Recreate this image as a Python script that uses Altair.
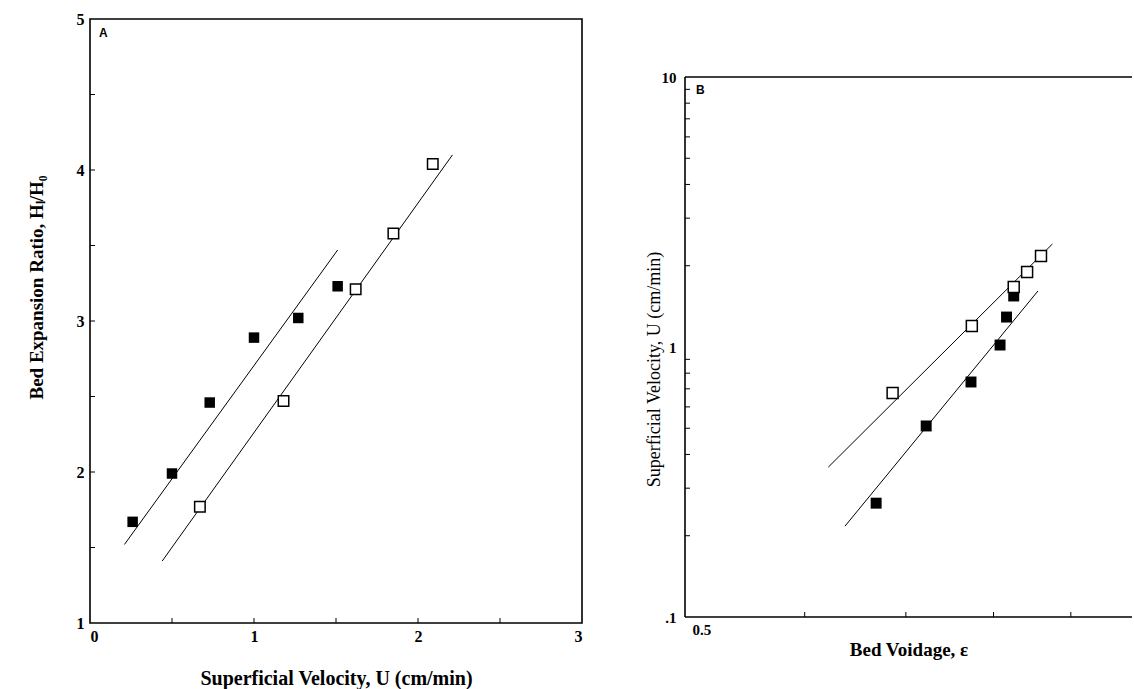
import altair as alt
import pandas as pd

# ---------------- Panel A data ----------------
a_filled_u = [0.26, 0.50, 0.73, 1.00, 1.27, 1.51]
a_filled_r = [1.67, 1.99, 2.46, 2.89, 3.02, 3.23]
a_open_u = [0.67, 1.18, 1.62, 1.85, 2.09]
a_open_r = [1.77, 2.47, 3.21, 3.58, 4.04]
a_fit_filled_u = [0.21, 1.51]
a_fit_filled_r = [1.52, 3.47]
a_fit_open_u = [0.44, 2.21]
a_fit_open_r = [1.41, 4.10]
a_x_ticks = [0, 1, 2, 3]
a_y_ticks = [1, 2, 3, 4, 5]
a_x_minor = [0.5, 1.0, 1.5, 2.0, 2.5]
a_y_minor = [1.5, 2.0, 2.5, 3.0, 3.5, 4.0, 4.5]

# ---------------- Panel B data ----------------
b_filled_e = [0.669, 0.722, 0.773, 0.808, 0.816, 0.825]
b_filled_u = [0.264, 0.510, 0.742, 1.017, 1.291, 1.545]
b_open_e = [0.686, 0.774, 0.825, 0.842, 0.860]
b_open_u = [0.676, 1.196, 1.668, 1.896, 2.173]
b_fit_filled_e = [0.638, 0.856]
b_fit_filled_u = [0.217, 1.612]
b_fit_open_e = [0.622, 0.875]
b_fit_open_u = [0.359, 2.406]
b_y_ticks = [0.1, 1, 10]
b_x_ticks = [0.5]
b_x_minor = [0.6, 0.7, 0.8, 0.9]
b_y_minor = [0.2, 0.3, 0.4, 0.5, 0.6, 0.7, 0.8, 0.9, 2, 3, 4, 5, 6, 7, 8, 9]

SERIF = "Liberation Serif"
SANS = "Liberation Sans"

# ---------------- Panel A ----------------
WA, HA = 492, 604
xA = alt.X("x:Q", scale=alt.Scale(domain=[0, 3], nice=False, zero=False),
           axis=alt.Axis(values=a_x_ticks, format="d", title="Superficial Velocity, U (cm/min)",
                         domain=False, ticks=False, grid=False, labelFont=SERIF, labelFontWeight="bold",
                         labelFontSize=16, labelPadding=5, labelColor="black",
                         titleFont=SERIF, titleFontWeight="bold", titleFontSize=20,
                         titlePadding=24, titleColor="black"))
yA = alt.Y("y:Q", scale=alt.Scale(domain=[1, 5], nice=False, zero=False),
           axis=alt.Axis(values=a_y_ticks, format="d", title="Bed Expansion Ratio, H\u2097/H\u2080",
                         domain=False, ticks=False, grid=False, labelFont=SERIF, labelFontWeight="bold",
                         labelFontSize=16, labelPadding=6, labelColor="black",
                         titleFont=SERIF, titleFontWeight="bold", titleFontSize=19,
                         titleColor="black", titleBaseline="middle", titleX=-54, titleY=268))

dfA_f = pd.DataFrame({"x": a_filled_u, "y": a_filled_r})
dfA_o = pd.DataFrame({"x": a_open_u, "y": a_open_r})
dfA_lf = pd.DataFrame({"x": a_fit_filled_u, "y": a_fit_filled_r})
dfA_lo = pd.DataFrame({"x": a_fit_open_u, "y": a_fit_open_r})
dfA_tx = pd.DataFrame({"x": a_x_minor})
dfA_ty = pd.DataFrame({"y": a_y_minor})

A_lines = (alt.Chart(dfA_lf).mark_line(color="black", strokeWidth=1).encode(x=xA, y=yA)
           + alt.Chart(dfA_lo).mark_line(color="black", strokeWidth=1).encode(x=xA, y=yA))
A_f = alt.Chart(dfA_f).mark_square(size=110, color="black", opacity=1).encode(x=xA, y=yA)
A_o = alt.Chart(dfA_o).mark_point(shape="square", size=110, filled=True, fill="white",
                                  stroke="black", strokeWidth=1.5, opacity=1).encode(x=xA, y=yA)
A_tx = alt.Chart(dfA_tx).mark_rule(color="black", strokeWidth=1).encode(
    x=xA, y=alt.value(HA), y2=alt.value(HA - 5))
A_ty = alt.Chart(dfA_ty).mark_rule(color="black", strokeWidth=1).encode(
    y=yA, x=alt.value(0), x2=alt.value(5))
A_lab = alt.Chart(pd.DataFrame({"t": ["A"]})).mark_text(
    font=SANS, fontWeight="bold", fontSize=12, align="left", baseline="top", color="black"
).encode(text="t:N", x=alt.value(9), y=alt.value(9))

panelA = alt.layer(A_lines, A_tx, A_ty, A_f, A_o, A_lab).properties(
    width=WA, height=HA, view=alt.ViewBackground(stroke="black", strokeWidth=1.6))

# ---------------- Panel B ----------------
WB = 447
GROUP_TOP = 20         # page row where B's plot group starts
B_BOTTOM = 618         # page row of U = 0.1
DEC = 270.0            # pixels per decade on the log axis
HB = B_BOTTOM - GROUP_TOP
ymaxB = 10 ** (-1 + HB / DEC)
xmaxB = 0.5 * 2 ** (WB / 455.0)

xB = alt.X("x:Q", scale=alt.Scale(type="log", domain=[0.5, xmaxB], nice=False, zero=False),
           axis=alt.Axis(values=b_x_ticks, format=".1f", title="Bed Voidage, \u03b5",
                         domain=False, ticks=False, grid=False, labelFont=SERIF, labelFontWeight="bold",
                         labelFontSize=15, labelPadding=5, labelOffset=7, labelColor="black",
                         titleFont=SERIF, titleFontWeight="bold", titleFontSize=19,
                         titlePadding=3, titleColor="black"))
yB = alt.Y("y:Q", scale=alt.Scale(type="log", domain=[0.1, ymaxB], nice=False, zero=False),
           axis=alt.Axis(values=b_y_ticks,
                         labelExpr="datum.value > 5 ? '10' : (datum.value > 0.5 ? '1' : '.1')",
                         title="Superficial Velocity, U (cm/min)",
                         domain=False, ticks=False, grid=False, labelFont=SERIF, labelFontWeight="bold",
                         labelFontSize=15, labelPadding=9, labelColor="black",
                         titleFont=SERIF, titleFontWeight="normal", titleFontSize=18,
                         titleColor="black", titleBaseline="middle", titleX=-31,
                         titleY=370 - GROUP_TOP))

dfB_f = pd.DataFrame({"x": b_filled_e, "y": b_filled_u})
dfB_o = pd.DataFrame({"x": b_open_e, "y": b_open_u})
dfB_lf = pd.DataFrame({"x": b_fit_filled_e, "y": b_fit_filled_u})
dfB_lo = pd.DataFrame({"x": b_fit_open_e, "y": b_fit_open_u})
dfB_tx = pd.DataFrame({"x": b_x_minor})
dfB_ty = pd.DataFrame({"y": b_y_minor})
dfB_frame_y = pd.DataFrame({"y": [b_y_ticks[0], b_y_ticks[-1]]})

B_lines = (alt.Chart(dfB_lf).mark_line(color="black", strokeWidth=1).encode(x=xB, y=yB)
           + alt.Chart(dfB_lo).mark_line(color="black", strokeWidth=1).encode(x=xB, y=yB))
B_f = alt.Chart(dfB_f).mark_square(size=120, color="black", opacity=1).encode(x=xB, y=yB)
B_o = alt.Chart(dfB_o).mark_point(shape="square", size=120, filled=True, fill="white",
                                  stroke="black", strokeWidth=1.5, opacity=1).encode(x=xB, y=yB)
B_hframe = alt.Chart(dfB_frame_y).mark_rule(color="black", strokeWidth=1.6).encode(
    y=yB, x=alt.value(0), x2=alt.value(WB))
B_vframe = alt.Chart(pd.DataFrame({"y": [b_y_ticks[0]], "y2": [b_y_ticks[-1]]})).mark_rule(
    color="black", strokeWidth=1.6).encode(y=yB, y2="y2:Q", x=alt.value(0))
B_tx = alt.Chart(dfB_tx).mark_rule(color="black", strokeWidth=1).encode(
    x=xB, y=alt.value(HB), y2=alt.value(HB - 5))
B_ty = alt.Chart(dfB_ty).mark_rule(color="black", strokeWidth=1).encode(
    y=yB, x=alt.value(0), x2=alt.value(5))
B_lab = alt.Chart(pd.DataFrame({"t": ["B"]})).mark_text(
    font=SANS, fontWeight="bold", fontSize=12, align="left", baseline="top", color="black"
).encode(text="t:N", x=alt.value(11), y=alt.value(86 - GROUP_TOP))

panelB = alt.layer(B_hframe, B_vframe, B_tx, B_ty, B_lines, B_f, B_o, B_lab).properties(
    width=WB, height=HB, view=alt.ViewBackground(strokeWidth=0))

chart = alt.hconcat(panelA, panelB, spacing=62).properties(
    padding={"left": 26, "top": 10, "right": 0, "bottom": 0},
    background="white",
).configure_view(strokeWidth=0)

chart.save("out.html", embed_options={"renderer": "svg", "actions": False})
